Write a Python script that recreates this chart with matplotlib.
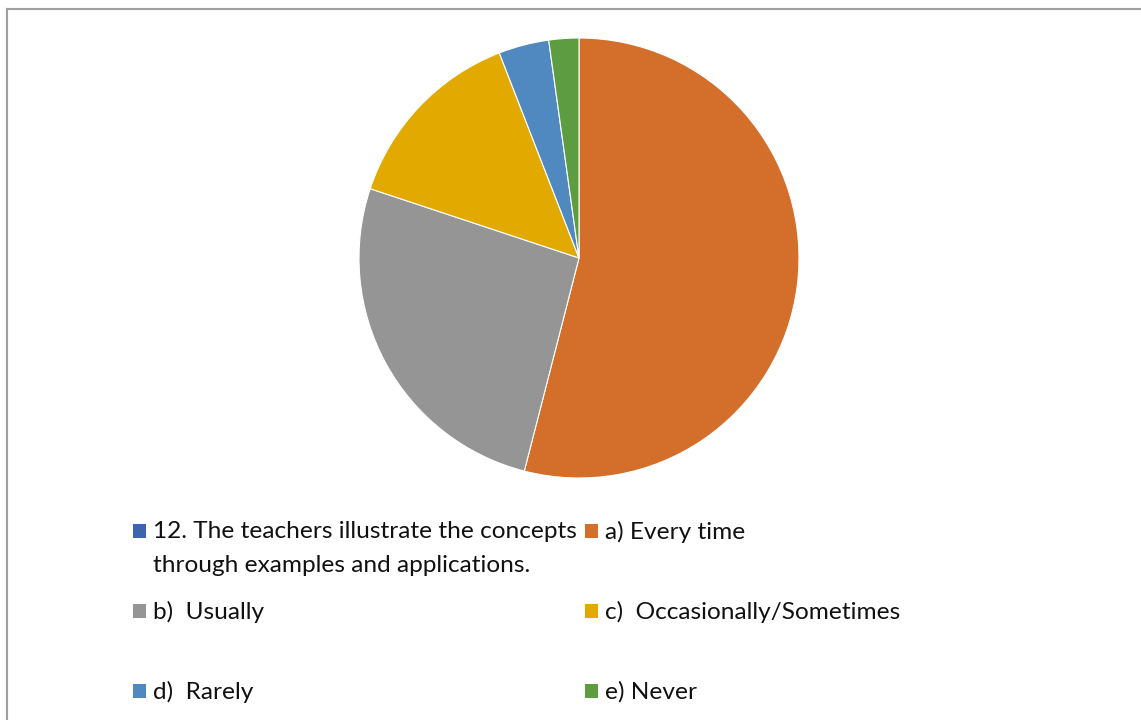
import matplotlib.pyplot as plt
from matplotlib.patches import Rectangle

# Anteile der Antworten (in %)
labels = ["a) Every time", "b)  Usually", "c)  Occasionally/Sometimes", "d)  Rarely", "e) Never"]
werte = [54.0, 26.1, 14.0, 3.7, 2.2]
farben = ["#D46F2B", "#959595", "#E2AA00", "#4F89BF", "#5E9C41"]

serien_name = "12. The teachers illustrate the concepts\nthrough examples and applications."
serien_farbe = "#3F64AE"

plt.rcParams['font.family'] = ['Lato', 'DejaVu Sans']

fig = plt.figure(figsize=(11.41, 7.2), dpi=100)

# Rahmen wie im Original (oben und links)
fig.add_artist(plt.Line2D([7 / 1141, 7 / 1141], [0, 1 - 9 / 720], color="#A0A0A0", lw=1.5,
                          transform=fig.transFigure))
fig.add_artist(plt.Line2D([7 / 1141, 1], [1 - 9 / 720, 1 - 9 / 720], color="#A0A0A0", lw=1.5,
                          transform=fig.transFigure))

# Kreisdiagramm
ax = fig.add_axes([(579 - 220) / 1141, (720 - 478) / 720, 440 / 1141, 440 / 720])
ax.pie(werte, colors=farben, startangle=90, counterclock=False, radius=1,
       wedgeprops=dict(edgecolor="white", linewidth=0.8))
ax.set_xlim(-1.0, 1.0)
ax.set_ylim(-1.0, 1.0)
ax.set_aspect("equal")
ax.axis("off")

# Legende manuell (2 Spalten, wie Excel)
eintraege = [(serien_name, serien_farbe)] + list(zip(labels, farben))
spalten_x = [133, 585]
zeilen_y = [531, 611, 691]
fontsize = 17.6
for i, (text, farbe) in enumerate(eintraege):
    x = spalten_x[i % 2]
    y = zeilen_y[i // 2]
    fig.add_artist(Rectangle((x / 1141, 1 - (y + 7) / 720), 13 / 1141, 14 / 720,
                             facecolor=farbe, edgecolor="none", transform=fig.transFigure))
    fig.text((x + 20) / 1141, 1 - (y - 10) / 720, text, fontsize=fontsize, color="#111111",
             va="top", ha="left", linespacing=1.75)

fig.savefig("out.png", dpi=100)
